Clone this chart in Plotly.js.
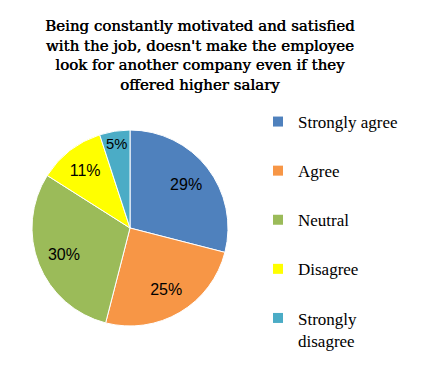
<!DOCTYPE html>
<html>
<head>
<meta charset="utf-8">
<script src="https://cdn.plot.ly/plotly-3.0.1.min.js"></script>
<style>html,body{margin:0;padding:0;background:#fff;}#chart{width:432px;height:366px;}</style>
</head>
<body>
<div id="chart"></div>
<script>
const categories = ["Strongly agree", "Agree", "Neutral", "Disagree", "Strongly disagree"];
const legendLabels = ["Strongly agree", "Agree", "Neutral", "Disagree", "Strongly<br>disagree"];
const values = [29, 25, 30, 11, 5];
const colors = ["#4F81BD", "#F79646", "#9BBB59", "#FFFF00", "#4BACC6"];
const titleText = "Being constantly motivated and satisfied<br>with the job, doesn't make the employee<br>look for another company even if they<br>offered higher salary";

const pieDomain = {x: [32/432, 228/432], y: [40/366, 236/366]};

// full pie: the slices
const pie = {
  type: "pie",
  labels: categories,
  values: values,
  sort: false,
  direction: "clockwise",
  rotation: 0,
  marker: {colors: colors, line: {color: "#ffffff", width: 1}},
  textinfo: "none",
  hoverinfo: "label+percent",
  showlegend: false,
  domain: pieDomain
};

// transparent ring of the same data, only to place the data labels further out
const pieLabels = {
  type: "pie",
  labels: categories,
  values: values,
  sort: false,
  direction: "clockwise",
  rotation: 0,
  hole: 0.45,
  marker: {colors: values.map(() => "rgba(0,0,0,0)"), line: {width: 0}},
  texttemplate: "%{value}%",
  textposition: "inside",
  insidetextorientation: "horizontal",
  textfont: {family: "Liberation Sans", size: 16, color: "#000000"},
  hoverinfo: "skip",
  showlegend: false,
  domain: pieDomain
};

const legendTraces = categories.map((c, i) => ({
  type: "scatter",
  mode: "markers",
  x: [null], y: [null],
  name: legendLabels[i],
  legendgroup: "g" + i,
  marker: {symbol: "square", size: 10, color: colors[i]},
  hoverinfo: "skip"
}));

const layout = {
  width: 432, height: 366,
  margin: {l: 0, r: 0, t: 0, b: 0, autoexpand: false},
  font: {family: "Liberation Serif", color: "#000000"},
  paper_bgcolor: "#ffffff",
  plot_bgcolor: "#ffffff",
  xaxis: {visible: false},
  yaxis: {visible: false},
  annotations: [{
    text: titleText,
    xref: "paper", yref: "paper",
    x: 200/432, xanchor: "center",
    y: 1 - 15/366, yanchor: "top",
    showarrow: false,
    align: "center",
    font: {family: "DejaVu Serif", size: 15, color: "#000000",
           shadow: "0.45px 0 0 #000"}
  }],
  showlegend: true,
  legend: {
    x: 258/432, xanchor: "left",
    y: 1 - 104/366, yanchor: "top",
    traceorder: "grouped",
    tracegroupgap: 24,
    valign: "top",
    font: {family: "Liberation Serif", size: 17, color: "#000000"},
    bgcolor: "rgba(0,0,0,0)"
  }
};

Plotly.newPlot("chart", [pie, pieLabels].concat(legendTraces), layout, {displayModeBar: false, staticPlot: true});
</script>
</body>
</html>
